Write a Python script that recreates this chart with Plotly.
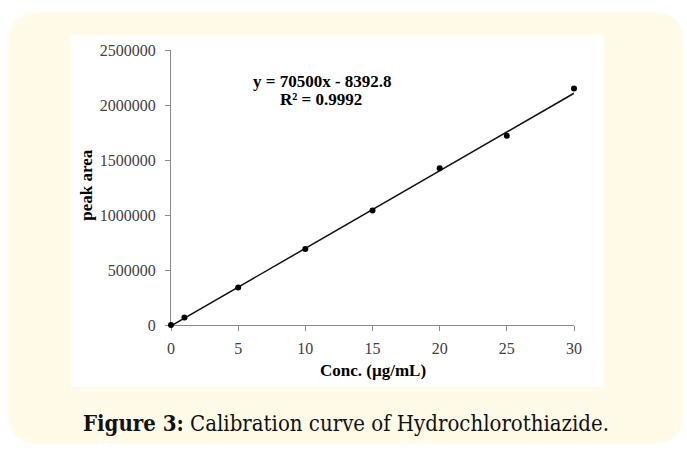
import plotly.graph_objects as go

# ---- data ----
conc = [0, 1, 5, 10, 15, 20, 25, 30]
peak_area = [0, 68000, 342000, 692000, 1040000, 1426000, 1720000, 2150000]
slope = 70500
intercept = -8392.8
x_ticks = [0, 5, 10, 15, 20, 25, 30]
y_ticks = [0, 500000, 1000000, 1500000, 2000000, 2500000]
eq_text = "y = 70500x - 8392.8"
r2_text = "R² = 0.9992"
x_title = "Conc. (µg/mL)"
y_title = "peak area"
caption_bold = "Figure 3:"
caption_rest = " Calibration curve of Hydrochlorothiazide."

trend_x = [min(conc), max(conc)]
trend_y = [slope * v + intercept for v in trend_x]

W, H = 687, 456
L, R, T, B = 171, 574, 49.5, 325  # plot area in px


def px(x):
    return (x - L) / (R - L)


def py(y):
    return (B - y) / (B - T)


def rounded_rect(x0, y0, x1, y1, r):
    rx = r / (R - L)
    ry = r / (B - T)
    X0, X1 = px(x0), px(x1)
    Y0, Y1 = py(y0), py(y1)  # Y0 top (larger), Y1 bottom
    return (f"M {X0+rx},{Y0} L {X1-rx},{Y0} Q {X1},{Y0} {X1},{Y0-ry} "
            f"L {X1},{Y1+ry} Q {X1},{Y1} {X1-rx},{Y1} "
            f"L {X0+rx},{Y1} Q {X0},{Y1} {X0},{Y1+ry} "
            f"L {X0},{Y0-ry} Q {X0},{Y0} {X0+rx},{Y0} Z")


fig = go.Figure()
fig.add_trace(go.Scatter(x=trend_x, y=trend_y, mode="lines",
                         line=dict(color="#111111", width=1.5),
                         hoverinfo="skip", showlegend=False))
fig.add_trace(go.Scatter(x=conc, y=peak_area, mode="markers",
                         marker=dict(color="black", size=6),
                         cliponaxis=False, showlegend=False))

axis_common = dict(showgrid=False, zeroline=False, showline=True,
                   linecolor="#8a8a8a", linewidth=1, ticks="outside",
                   ticklen=5, tickcolor="#8a8a8a", tickwidth=1, layer="below traces",
                   tickfont=dict(family="Liberation Serif", size=16, color="#404040"))

fig.update_xaxes(range=[0, 30], tickvals=x_ticks, ticktext=[str(v) for v in x_ticks],
                 ticklabelstandoff=4, **axis_common)
fig.update_yaxes(range=[0, 2500000], tickvals=y_ticks, ticktext=[str(v) for v in y_ticks],
                 ticklabelstandoff=6, **axis_common)

shapes = [
    dict(type="path", xref="paper", yref="paper", path=rounded_rect(8, 12, 683, 444, 30),
         fillcolor="#fffbe8", line=dict(width=0), layer="below"),
    dict(type="rect", xref="paper", yref="paper", x0=px(71), x1=px(603), y0=py(35), y1=py(387),
         fillcolor="white", line=dict(width=0), layer="below"),
]

ser = "Liberation Serif"
annotations = [
    dict(text=f"<b>{eq_text}</b>", x=px(322), y=py(81), xref="paper", yref="paper",
         showarrow=False, xanchor="center", yanchor="middle",
         font=dict(family=ser, size=17, color="black")),
    dict(text=f"<b>{r2_text}</b>", x=px(321), y=py(99.5), xref="paper", yref="paper",
         showarrow=False, xanchor="center", yanchor="middle",
         font=dict(family=ser, size=17, color="black")),
    dict(text=f"<b>{x_title}</b>", x=px(372.5), y=py(371), xref="paper", yref="paper",
         showarrow=False, xanchor="center", yanchor="middle",
         font=dict(family=ser, size=17, color="black")),
    dict(text=f"<b>{y_title}</b>", x=px(87), y=py(185.5), xref="paper", yref="paper",
         showarrow=False, xanchor="center", yanchor="middle", textangle=-90,
         font=dict(family=ser, size=17, color="black")),
    dict(text=f"<b>{caption_bold}</b>{caption_rest}", x=px(346), y=py(423), xref="paper", yref="paper",
         showarrow=False, xanchor="center", yanchor="middle",
         font=dict(family="DejaVu Serif Condensed", size=22, color="#111111")),
]

fig.update_layout(width=W, height=H, margin=dict(l=L, r=W - R, t=T, b=H - B, pad=0),
                  paper_bgcolor="white", plot_bgcolor="rgba(0,0,0,0)",
                  shapes=shapes, annotations=annotations, showlegend=False)

fig.write_html("out.html", config={"displayModeBar": False},
               post_script="document.body.style.margin='0';document.body.style.overflow='hidden';")
